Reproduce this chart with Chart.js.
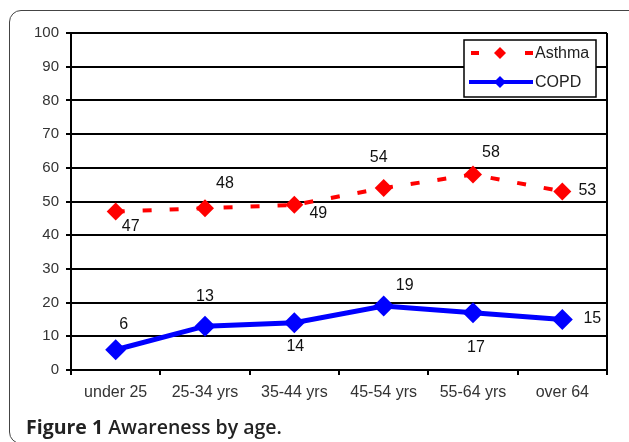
<!DOCTYPE html>
<html>
<head>
<meta charset="utf-8">
<script src="https://cdn.jsdelivr.net/npm/chart.js@4.4.1/dist/chart.umd.min.js"></script>
<style>
  html, body { margin:0; padding:0; background:#fff; overflow:hidden; }
  #wrap { position:relative; width:629px; height:442px; }
  #frame { position:absolute; left:9px; top:10px; width:640px; height:434px;
           border:1.5px solid #444; border-radius:12px; box-sizing:border-box; }
  #c { position:absolute; left:0; top:0; }
  #caption { position:absolute; left:26px; top:415px; font-family:"Open Sans", sans-serif;
             font-weight:600; font-size:19.5px; color:#222; line-height:24px; white-space:nowrap; }
  #caption b { font-weight:700; }
</style>
</head>
<body>
<div id="wrap">
  <div id="frame"></div>
  <canvas id="c" width="629" height="442"></canvas>
  <div id="caption"><b>Figure 1</b> Awareness by age.</div>
</div>
<script>
const categories = ["under 25", "25-34 yrs", "35-44 yrs", "45-54 yrs", "55-64 yrs", "over 64"];
const asthma = [47, 48, 49, 54, 58, 53];
const copd = [6, 13, 14, 19, 17, 15];
const yTicks = [0, 10, 20, 30, 40, 50, 60, 70, 80, 90, 100];
const seriesNames = ["Asthma", "COPD"];

// label offsets (px) relative to each point
const asthmaLabelOffsets = [[15, 15], [20, -25], [24, 9], [-5, -30], [18, -22], [25, -1]];
const copdLabelOffsets = [[8, -25], [0, -30], [1, 24], [21, -20], [3, 35], [30, -1]];

const labelPlugin = {
  id: 'labels',
  afterDatasetsDraw(chart) {
    const ctx = chart.ctx;
    ctx.save();
    ctx.font = '16px "Liberation Sans", Arial, sans-serif';
    ctx.fillStyle = '#111';
    ctx.textAlign = 'center';
    ctx.textBaseline = 'middle';
    const offs = [asthmaLabelOffsets, copdLabelOffsets];
    chart.data.datasets.forEach((ds, di) => {
      const meta = chart.getDatasetMeta(di);
      meta.data.forEach((pt, i) => {
        const o = offs[di][i];
        ctx.fillText(String(ds.data[i]), pt.x + o[0], pt.y + o[1]);
      });
    });
    ctx.restore();
  },
  afterDraw(chart) {
    const ctx = chart.ctx;
    const a = chart.chartArea;
    ctx.save();
    // right border of plot area
    ctx.strokeStyle = '#000';
    ctx.lineWidth = 2;
    ctx.beginPath();
    ctx.moveTo(a.right, a.top);
    ctx.lineTo(a.right, a.bottom + 5);
    ctx.stroke();
    // legend box
    const lx = a.right - 143, ly = a.top + 7, lw = 132, lh = 57;
    ctx.fillStyle = '#fff';
    ctx.fillRect(lx, ly, lw, lh);
    ctx.lineWidth = 1.5;
    ctx.strokeStyle = '#000';
    ctx.strokeRect(lx, ly, lw, lh);
    const ds = chart.data.datasets;
    const rows = [ly + 13, ly + 42];
    // Asthma
    ctx.fillStyle = ds[0].borderColor;
    ctx.fillRect(lx + 7, rows[0] - 2, 8, 4);
    ctx.fillRect(lx + 61, rows[0] - 2, 8, 4);
    ctx.beginPath();
    ctx.moveTo(lx + 36 - 6, rows[0]); ctx.lineTo(lx + 36, rows[0] - 6);
    ctx.lineTo(lx + 36 + 6, rows[0]); ctx.lineTo(lx + 36, rows[0] + 6);
    ctx.closePath(); ctx.fill();
    // COPD
    ctx.strokeStyle = ds[1].borderColor;
    ctx.fillStyle = ds[1].borderColor;
    ctx.lineWidth = 4;
    ctx.beginPath(); ctx.moveTo(lx + 5, rows[1]); ctx.lineTo(lx + 69, rows[1]); ctx.stroke();
    ctx.beginPath();
    ctx.moveTo(lx + 36 - 6, rows[1]); ctx.lineTo(lx + 36, rows[1] - 6);
    ctx.lineTo(lx + 36 + 6, rows[1]); ctx.lineTo(lx + 36, rows[1] + 6);
    ctx.closePath(); ctx.fill();
    ctx.fillStyle = '#222';
    ctx.font = '16px "Liberation Sans", Arial, sans-serif';
    ctx.textBaseline = 'middle';
    ctx.textAlign = 'left';
    ctx.fillText(seriesNames[0], lx + 71, rows[0] + 1);
    ctx.fillText(seriesNames[1], lx + 71, rows[1] + 1);
    ctx.restore();
  }
};

new Chart(document.getElementById('c'), {
  type: 'line',
  data: {
    labels: categories,
    datasets: [
      { label: seriesNames[0], data: asthma, borderColor: '#ff0000', backgroundColor: '#ff0000',
        borderWidth: 4, borderDash: [9, 18], pointStyle: 'rectRot', pointRadius: 9,
        pointBorderWidth: 0, tension: 0, fill: false },
      { label: seriesNames[1], data: copd, borderColor: '#0000ff', backgroundColor: '#0000ff',
        borderWidth: 5, pointStyle: 'rectRot', pointRadius: 10.5,
        pointBorderWidth: 0, tension: 0, fill: false }
    ]
  },
  options: {
    responsive: false,
    animation: false,
    devicePixelRatio: 1,
    layout: { padding: { left: 0, top: 33, right: 22, bottom: 42 } },
    plugins: { legend: { display: false }, tooltip: { enabled: false } },
    scales: {
      x: {
        type: 'category',
        offset: true,
        grid: { offset: true, drawOnChartArea: false, tickLength: 5, color: '#000', lineWidth: 2 },
        border: { display: true, color: '#000', width: 2 },
        ticks: { color: '#333', padding: 8, maxRotation: 0,
                 font: { family: '"Liberation Sans", Arial, sans-serif', size: 16 } },
        afterFit(s) { s.height = 30; }
      },
      y: {
        min: 0, max: 100,
        afterBuildTicks(s) { s.ticks = yTicks.map(v => ({ value: v })); },
        grid: { color: '#000', lineWidth: 2, tickLength: 5 },
        border: { display: true, color: '#000', width: 2 },
        ticks: { color: '#333', padding: 7,
                 font: { family: '"Liberation Sans", Arial, sans-serif', size: 15 } },
        afterFit(s) { s.width = 71; }
      }
    }
  },
  plugins: [labelPlugin]
});
</script>
</body>
</html>
